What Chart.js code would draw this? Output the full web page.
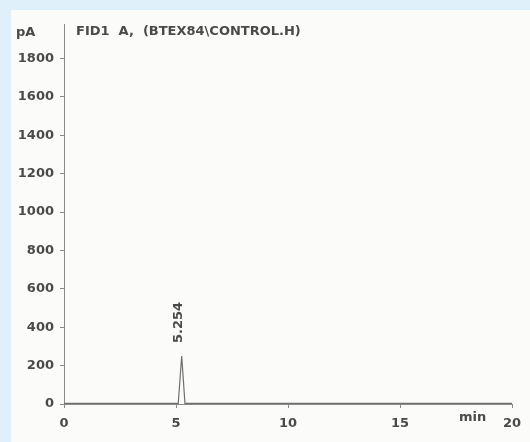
<!DOCTYPE html>
<html lang="en">
<head>
    <meta charset="UTF-8">
    <title>FID1 A chromatogram</title>
    <script src="https://cdn.jsdelivr.net/npm/chart.js@4.4.0/dist/chart.umd.min.js"></script>
    <style>
        body { margin: 0; background: #dff0fb; }
        canvas { display: block; }
    </style>
</head>
<body>
    <canvas id="grafico" width="530" height="442"></canvas>

    <script>
        const tiempos = [0, 2, 4, 5.10, 5.254, 5.40, 7, 10, 13, 16, 20];
        const senal = [3, 3, 3, 3, 250, 3, 3, 3, 3, 3, 3];
        const ticksY = [0, 200, 400, 600, 800, 1000, 1200, 1400, 1600, 1800];
        const ticksX = [0, 5, 10, 15, 20];
        const picos = [{ tiempo: 5.254, etiqueta: '5.254' }];
        const titulo = 'FID1  A,  (BTEX84\\CONTROL.H)';

        const fuente = '"DejaVu Sans", Verdana, sans-serif';
        const colorTexto = '#4a4a4a';

        // Fondo: borde azul claro y hoja escaneada
        const fondo = {
            id: 'fondo',
            beforeDraw(chart) {
                const ctx = chart.ctx;
                ctx.save();
                ctx.fillStyle = '#dff0fb';
                ctx.fillRect(0, 0, chart.width, chart.height);
                ctx.fillStyle = '#fbfbfa';
                ctx.fillRect(11, 10, chart.width - 11, chart.height - 10);
                ctx.restore();
            }
        };

        // Textos extra: unidades, titulo y etiqueta del pico
        const textos = {
            id: 'textos',
            afterDraw(chart) {
                const ctx = chart.ctx;
                const x = chart.scales.x;
                const y = chart.scales.y;
                ctx.save();
                ctx.fillStyle = colorTexto;
                ctx.font = 'bold 13px ' + fuente;
                ctx.textBaseline = 'middle';
                ctx.textAlign = 'left';
                ctx.fillText('pA', 16, 33);
                ctx.fillText(titulo, 76, 32);
                ctx.fillText('min', 459, 418);

                picos.forEach(p => {
                    const idx = tiempos.indexOf(p.tiempo);
                    const px = x.getPixelForValue(p.tiempo);
                    const py = y.getPixelForValue(senal[idx]);
                    ctx.save();
                    ctx.translate(px - 3, py - 13);
                    ctx.rotate(-Math.PI / 2);
                    ctx.textAlign = 'left';
                    ctx.fillText(p.etiqueta, 0, 0);
                    ctx.restore();
                });
                ctx.restore();
            }
        };

        new Chart(document.getElementById('grafico'), {
            type: 'line',
            data: {
                datasets: [{
                    data: tiempos.map((t, i) => ({ x: t, y: senal[i] })),
                    borderColor: '#6f6f6f',
                    borderWidth: 1.2,
                    pointRadius: 0,
                    tension: 0,
                    fill: false
                }]
            },
            options: {
                responsive: false,
                animation: false,
                layout: { padding: { top: 24, right: 18, left: 0, bottom: 0 } },
                plugins: {
                    legend: { display: false },
                    tooltip: { enabled: false }
                },
                scales: {
                    x: {
                        type: 'linear',
                        min: 0,
                        max: 20,
                        afterFit: s => { s.height = 38; },
                        afterBuildTicks: s => { s.ticks = ticksX.map(v => ({ value: v })); },
                        border: { color: '#8a8a8a', width: 1 },
                        grid: { drawOnChartArea: false, tickLength: 4, color: '#8a8a8a' },
                        ticks: {
                            color: colorTexto,
                            font: { size: 13, weight: 'bold', family: fuente },
                            padding: 8,
                            callback: v => String(v)
                        }
                    },
                    y: {
                        min: 0,
                        max: 1980,
                        afterFit: s => { s.width = 64; },
                        afterBuildTicks: s => { s.ticks = ticksY.map(v => ({ value: v })); },
                        border: { color: '#8a8a8a', width: 1 },
                        grid: { drawOnChartArea: false, tickLength: 4, color: '#8a8a8a' },
                        ticks: {
                            color: colorTexto,
                            font: { size: 13, weight: 'bold', family: fuente },
                            padding: 6,
                            callback: v => String(v)
                        }
                    }
                }
            },
            plugins: [fondo, textos]
        });
    </script>
</body>
</html>
